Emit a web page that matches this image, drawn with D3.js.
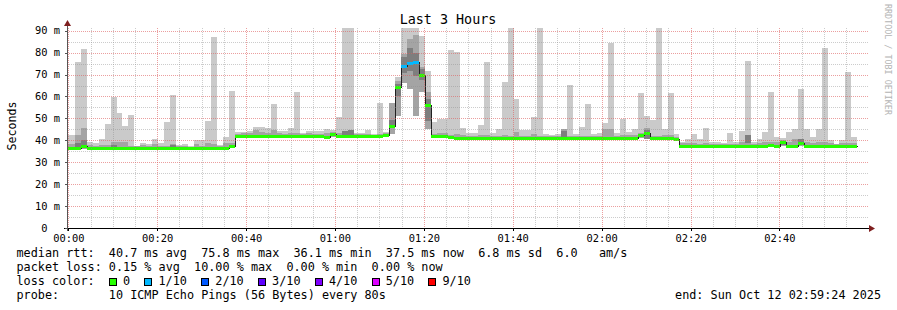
<!DOCTYPE html>
<html>
<head>
<meta charset="utf-8">
<script src="https://cdn.jsdelivr.net/npm/d3@7"></script>
<style>
  body { margin: 0; background: #fff; }
  svg text { font-family: 'DejaVu Sans Mono', monospace; white-space: pre; fill: #000; }
</style>
</head>
<body>
<svg id="chart" width="897" height="310"></svg>
<script>
// one entry per 80 s probe round, oldest first
const median = [
  36.5, 36.5, 36.5, 37.6, 36.5, 36.5, 36.5, 36.5, 36.5, 36.5,
  36.5, 36.5, 36.5, 36.5, 36.5, 36.5, 36.5, 36.5, 36.5, 36.5,
  36.5, 36.5, 36.5, 36.5, 36.5, 36.5, 36.5, 36.5, 37.2, 42.0,
  42.0, 42.0, 42.0, 42.0, 42.0, 42.0, 42.0, 42.0, 42.0, 42.0,
  42.0, 42.0, 42.0, 42.0, 41.6, 42.9, 42.0, 42.0, 42.0, 42.0,
  42.0, 42.0, 42.0, 42.0, 42.4, 46.5, 64.1, 74.0, 75.2, 75.7,
  69.9, 56.1, 42.0, 42.0, 42.0, 41.3, 41.0, 41.0, 41.0, 41.0,
  41.0, 41.0, 41.0, 41.0, 41.0, 41.0, 41.0, 41.0, 41.0, 41.0,
  41.0, 41.0, 41.0, 41.0, 41.0, 41.0, 41.0, 41.0, 41.0, 41.0,
  41.0, 41.0, 41.0, 41.0, 41.0, 41.0, 41.0, 42.3, 43.3, 41.0,
  41.0, 41.0, 41.0, 40.6, 37.5, 37.5, 37.5, 37.5, 37.5, 37.5,
  37.5, 37.5, 37.5, 37.5, 37.5, 37.5, 37.5, 37.5, 37.5, 38.0,
  37.2, 39.3, 37.4, 37.4, 38.6, 37.4, 37.4, 37.4, 37.4, 37.4,
  37.4, 37.4, 37.4, 37.4,
];
const smokeMax = [
  42.4, 42.4, 75.6, 81.6, 39.4, 38.8, 40.6, 47.4, 59.9, 52.6,
  46.5, 51.5, 37.5, 38.8, 38.3, 40.6, 38.8, 48.3, 60.8, 37.8,
  38.3, 37.2, 40.1, 40.1, 48.8, 87.3, 37.8, 41.5, 62.5, 43.9,
  43.9, 44.2, 46.0, 46.0, 45.6, 56.5, 44.2, 44.2, 45.6, 62.0,
  43.3, 44.2, 44.2, 44.2, 45.1, 44.5, 50.6, 91.2, 91.2, 43.3,
  43.3, 44.7, 42.9, 57.0, 44.0, 57.0, 69.0, 91.2, 91.2, 91.2,
  87.4, 71.6, 48.2, 49.7, 49.7, 81.0, 80.3, 45.6, 43.3, 43.3,
  47.0, 75.7, 43.3, 45.1, 66.6, 91.2, 58.8, 44.7, 44.7, 50.6,
  91.2, 42.9, 42.4, 42.9, 45.1, 65.2, 42.9, 46.0, 56.5, 42.9,
  43.3, 47.9, 84.4, 43.3, 49.7, 43.8, 45.1, 61.6, 51.1, 49.2,
  91.2, 45.1, 61.6, 42.9, 39.2, 40.6, 42.9, 40.6, 45.6, 39.2,
  39.2, 38.8, 43.3, 39.2, 44.2, 76.2, 39.2, 40.6, 43.8, 62.0,
  41.5, 41.0, 43.8, 45.1, 63.4, 45.1, 41.5, 45.1, 82.1, 40.1,
  38.3, 40.1, 71.1, 41.5,
];
const smokeMid = [
  38.5, 38.5, 42.4, 45.6, 37.8, 37.5, 37.8, 37.8, 39.4, 39.4,
  39.4, 37.5, 37.2, 37.8, 37.5, 38.3, 37.5, 37.5, 38.3, 37.2,
  37.5, 37.0, 38.3, 37.5, 38.8, 38.3, 37.2, 38.8, 38.8, 43.0,
  43.3, 43.3, 44.5, 43.8, 43.5, 44.7, 43.3, 43.0, 43.5, 43.3,
  42.9, 43.3, 43.0, 42.9, 43.3, 44.0, 43.3, 44.2, 44.5, 42.9,
  42.7, 43.0, 42.5, 42.9, 43.3, 57.0, 67.0, 79.4, 86.2, 88.0,
  73.3, 62.0, 43.0, 43.3, 43.3, 42.4, 42.9, 42.4, 42.0, 41.8,
  42.4, 42.4, 42.0, 42.0, 42.4, 41.8, 43.8, 42.0, 42.0, 42.9,
  42.0, 42.0, 41.8, 42.0, 45.1, 42.0, 42.0, 42.0, 41.8, 42.0,
  42.0, 45.1, 45.1, 42.0, 42.4, 42.4, 42.4, 43.3, 45.6, 42.0,
  42.0, 42.4, 42.4, 41.5, 38.8, 38.8, 38.8, 38.5, 38.8, 38.3,
  38.3, 38.3, 38.5, 38.3, 39.2, 40.1, 38.3, 38.8, 39.2, 39.2,
  39.2, 40.1, 39.2, 40.6, 40.6, 39.2, 38.8, 39.2, 39.2, 38.8,
  38.3, 38.8, 38.8, 38.8,
];
const smokeMin = [
  36.0, 36.0, 36.0, 36.2, 36.0, 36.0, 36.0, 36.0, 36.0, 36.0,
  36.0, 36.0, 36.0, 36.0, 36.0, 36.0, 36.0, 36.0, 36.0, 36.0,
  36.0, 36.0, 36.0, 36.0, 36.0, 36.0, 36.0, 36.0, 36.4, 41.5,
  41.5, 41.5, 41.5, 41.5, 41.5, 41.5, 41.5, 41.5, 41.5, 41.5,
  41.5, 41.5, 41.5, 41.5, 41.2, 41.5, 41.5, 41.5, 41.5, 41.5,
  41.5, 41.5, 41.5, 41.5, 41.8, 42.9, 51.2, 66.0, 63.4, 51.2,
  61.9, 45.1, 41.5, 41.5, 41.5, 40.6, 40.6, 40.6, 40.6, 40.6,
  40.6, 40.6, 40.6, 40.6, 40.6, 40.6, 40.6, 40.6, 40.6, 40.6,
  40.6, 40.6, 40.6, 40.6, 40.6, 40.6, 40.6, 40.6, 40.6, 40.6,
  40.6, 40.6, 40.6, 40.6, 40.6, 40.6, 40.6, 41.0, 41.0, 40.6,
  40.6, 40.6, 40.6, 40.2, 37.0, 37.0, 37.0, 37.0, 37.0, 37.0,
  37.0, 37.0, 37.0, 37.0, 37.0, 37.0, 37.0, 37.0, 37.0, 37.2,
  36.8, 37.2, 37.0, 37.0, 37.2, 37.0, 37.0, 37.0, 37.0, 37.0,
  37.0, 37.0, 37.0, 37.0,
];
// inner pings band (darker smoke), only where it shows: [round, low, high]
const smokeCore = [
  [2, 36.6, 38.6], [3, 37.0, 40.0], [8, 36.6, 38.0], [18, 36.6, 37.8],
  [47, 42.4, 44.2], [48, 42.4, 44.5], [55, 45.6, 49.2], [56, 60.0, 65.5],
  [57, 70.5, 78.0], [58, 71.5, 82.0], [59, 69.5, 80.0], [60, 67.5, 72.5],
  [61, 48.9, 58.8], [84, 41.2, 44.2], [98, 40.6, 44.7], [115, 38.8, 42.4],
  [121, 37.8, 39.3], [124, 38.0, 40.6],
];
// lost pings out of 10 per round
const lossTenths = median.map(() => 0);
[57, 58, 59].forEach((i) => { lossTenths[i] = 1; });

const lossLevels = [0, 1, 2, 3, 4, 5, 9];
const lossLabels = ['0', '1/10', '2/10', '3/10', '4/10', '5/10', '9/10'];
const lossColors = ['#26ff00', '#00b8ff', '#0059ff', '#5e00ff', '#7e00ff', '#dd00ff', '#ff0000'];

const yTicks = [0, 10, 20, 30, 40, 50, 60, 70, 80, 90];
const legendLines = [
  'median rtt:  40.7 ms avg  75.8 ms max  36.1 ms min  37.5 ms now  6.8 ms sd  6.0   am/s',
  'packet loss: 0.15 % avg  10.00 % max  0.00 % min  0.00 % now',
  'loss color:',
  'probe:       10 ICMP Echo Pings (56 Bytes) every 80s',
];
const endLabel = 'end: Sun Oct 12 02:59:24 2025';

const base = new Date(2025, 9, 12, 0, 0, 0).getTime();
const sec = (s) => new Date(base + s * 1000);
const firstStep = -69;
const stepLen = 80;

const pLeft = 67;
const pRight = 867;
const pTop = 28;
const pBottom = 228;

const svg = d3.select('#chart');
svg.append('rect').attr('width', 897).attr('height', 310).attr('fill', '#fff');

const x = d3.scaleTime()
  .domain([sec(-17.5), sec(180 * 60 - 17.5)])
  .range([pLeft, pRight]);
const y = d3.scaleLinear()
  .domain([0, 91.24])
  .range([pBottom, pTop]);

const steps = median.map((m, i) => ({
  t0: sec(firstStep + i * stepLen),
  t1: sec(firstStep + (i + 1) * stepLen),
  med: m,
  max: smokeMax[i],
  mid: smokeMid[i],
  min: smokeMin[i],
  loss: lossTenths[i],
}));

svg.append('clipPath').attr('id', 'plot')
  .append('rect')
  .attr('x', pLeft).attr('y', pTop)
  .attr('width', pRight - pLeft).attr('height', pBottom - pTop);

const g = svg.append('g').attr('clip-path', 'url(#plot)').attr('shape-rendering', 'crispEdges');

const sx = (d) => Math.round(x(d.t0));
const sw = (d) => Math.round(x(d.t1)) - Math.round(x(d.t0));

g.selectAll('rect.outer')
  .data(steps)
  .join('rect')
  .attr('class', 'outer')
  .attr('x', sx)
  .attr('width', sw)
  .attr('y', (d) => y(d.max))
  .attr('height', (d) => y(d.min) - y(d.max))
  .attr('fill', '#cacaca');

g.selectAll('rect.inner')
  .data(steps)
  .join('rect')
  .attr('class', 'inner')
  .attr('x', sx)
  .attr('width', sw)
  .attr('y', (d) => y(d.mid))
  .attr('height', (d) => Math.max(0, y(d.min) - y(d.mid)))
  .attr('fill', '#a4a4a4');

g.selectAll('rect.core')
  .data(smokeCore)
  .join('rect')
  .attr('class', 'core')
  .attr('x', (c) => sx(steps[c[0]]))
  .attr('width', (c) => sw(steps[c[0]]))
  .attr('y', (c) => y(c[2]))
  .attr('height', (c) => y(c[1]) - y(c[2]))
  .attr('fill', '#7e7e7e');

const pts = steps.map((d) => [d.t0, d.med]);
pts.push([steps[steps.length - 1].t1, steps[steps.length - 1].med]);
g.append('path')
  .attr('d', d3.line().curve(d3.curveStepAfter).x((p) => Math.round(x(p[0])) + 0.5).y((p) => Math.round(y(p[1])) + 0.5)(pts))
  .attr('fill', 'none')
  .attr('stroke', '#202020')
  .attr('stroke-width', 1);

g.selectAll('rect.med')
  .data(steps)
  .join('rect')
  .attr('class', 'med')
  .attr('x', sx)
  .attr('width', sw)
  .attr('y', (d) => Math.round(y(d.med)) - 1)
  .attr('height', 3)
  .attr('fill', (d) => lossColors[lossLevels.indexOf(d.loss)]);

// grid on top of the data, like rrdtool
const grid = svg.append('g').attr('shape-rendering', 'crispEdges').attr('stroke-dasharray', '1,1');
const minorX = d3.timeMinute.every(5).range(x.domain()[0], x.domain()[1]);
const majorX = d3.timeMinute.every(20).range(x.domain()[0], x.domain()[1]);
grid.selectAll('line.mx')
  .data(minorX.filter((t) => t.getMinutes() % 20 !== 0))
  .join('line')
  .attr('x1', (t) => Math.round(x(t)) + 0.5).attr('x2', (t) => Math.round(x(t)) + 0.5)
  .attr('y1', pTop).attr('y2', pBottom)
  .attr('stroke', '#8f8f8f').attr('stroke-opacity', 0.45);
grid.selectAll('line.my')
  .data(d3.range(5, 90, 10))
  .join('line')
  .attr('x1', pLeft).attr('x2', pRight + 1)
  .attr('y1', (v) => Math.round(y(v)) + 0.5).attr('y2', (v) => Math.round(y(v)) + 0.5)
  .attr('stroke', '#8f8f8f').attr('stroke-opacity', 0.45);
grid.selectAll('line.Mx')
  .data(majorX)
  .join('line')
  .attr('x1', (t) => Math.round(x(t)) + 0.5).attr('x2', (t) => Math.round(x(t)) + 0.5)
  .attr('y1', pTop).attr('y2', pBottom)
  .attr('stroke', '#de5f5f').attr('stroke-opacity', 0.6);
grid.selectAll('line.My')
  .data(yTicks.slice(1))
  .join('line')
  .attr('x1', pLeft).attr('x2', pRight + 1)
  .attr('y1', (v) => Math.round(y(v)) + 0.5).attr('y2', (v) => Math.round(y(v)) + 0.5)
  .attr('stroke', '#de5f5f').attr('stroke-opacity', 0.6);

// axes
const axis = svg.append('g').attr('shape-rendering', 'crispEdges');
axis.append('line')
  .attr('x1', pLeft - 3).attr('x2', pRight + 3)
  .attr('y1', pBottom + 0.5).attr('y2', pBottom + 0.5)
  .attr('stroke', '#000');
axis.append('line')
  .attr('x1', pLeft + 0.5).attr('x2', pLeft + 0.5)
  .attr('y1', pBottom + 3).attr('y2', pTop - 2)
  .attr('stroke', '#555');
axis.selectAll('line.yt')
  .data(yTicks)
  .join('line')
  .attr('x1', pLeft - 2).attr('x2', pLeft)
  .attr('y1', (v) => Math.round(y(v)) + 0.5).attr('y2', (v) => Math.round(y(v)) + 0.5)
  .attr('stroke', '#555');
axis.selectAll('line.xt')
  .data(majorX)
  .join('line')
  .attr('x1', (t) => Math.round(x(t)) + 0.5).attr('x2', (t) => Math.round(x(t)) + 0.5)
  .attr('y1', pBottom).attr('y2', pBottom + 3)
  .attr('stroke', '#000');

svg.append('path')
  .attr('d', `M${pLeft - 3},${pTop - 2} L${pLeft + 0.5},${pTop - 8} L${pLeft + 4},${pTop - 2} Z`)
  .attr('fill', '#7f1f1f');
svg.append('path')
  .attr('d', `M${pRight + 2},${pBottom - 3} L${pRight + 8},${pBottom + 0.5} L${pRight + 2},${pBottom + 4} Z`)
  .attr('fill', '#7f1f1f');

// labels
const fmt = d3.timeFormat('%H:%M');
svg.selectAll('text.xl')
  .data(majorX)
  .join('text')
  .attr('x', (t) => x(t) + 0.5)
  .attr('y', 242)
  .attr('text-anchor', 'middle')
  .style('font-size', '10.4px')
  .text(fmt);

svg.selectAll('text.yl')
  .data(yTicks)
  .join('text')
  .attr('x', 60)
  .attr('y', (v) => y(v) + 3.6)
  .attr('text-anchor', 'end')
  .style('font-size', '10.4px')
  .text((v) => (v === 0 ? '0  ' : `${v} m`));

svg.append('text')
  .attr('x', 448).attr('y', 24)
  .attr('text-anchor', 'middle')
  .style('font-size', '13.4px')
  .text('Last 3 Hours');

svg.append('text')
  .attr('transform', 'translate(15.5,126) rotate(-90)')
  .attr('text-anchor', 'middle')
  .style('font-size', '11.6px')
  .text('Seconds');

svg.append('text')
  .attr('transform', 'translate(885,4) rotate(90)')
  .style('font-size', '8.4px')
  .style('fill', '#b4b4b4')
  .text('RRDTOOL / TOBI OETIKER');

const adv = 7.1;
const lx = 16.5;
svg.selectAll('text.leg')
  .data(legendLines)
  .join('text')
  .attr('x', lx)
  .attr('y', (d, i) => 257 + i * 14)
  .style('font-size', '11.8px')
  .text((d) => d);

let col = 13;
const swatches = svg.append('g');
lossLabels.forEach((lab, i) => {
  swatches.append('rect')
    .attr('x', Math.round(lx + col * adv) + 0.5)
    .attr('y', 278.5)
    .attr('width', 7).attr('height', 7)
    .attr('fill', lossColors[i])
    .attr('stroke', '#000')
    .attr('shape-rendering', 'crispEdges');
  swatches.append('text')
    .attr('x', lx + (col + 2) * adv)
    .attr('y', 285)
    .style('font-size', '11.8px')
    .text(lab);
  col += 2 + lab.length + 2;
});

svg.append('text')
  .attr('x', 881).attr('y', 299)
  .attr('text-anchor', 'end')
  .style('font-size', '11.8px')
  .text(endLabel);
</script>
</body>
</html>
